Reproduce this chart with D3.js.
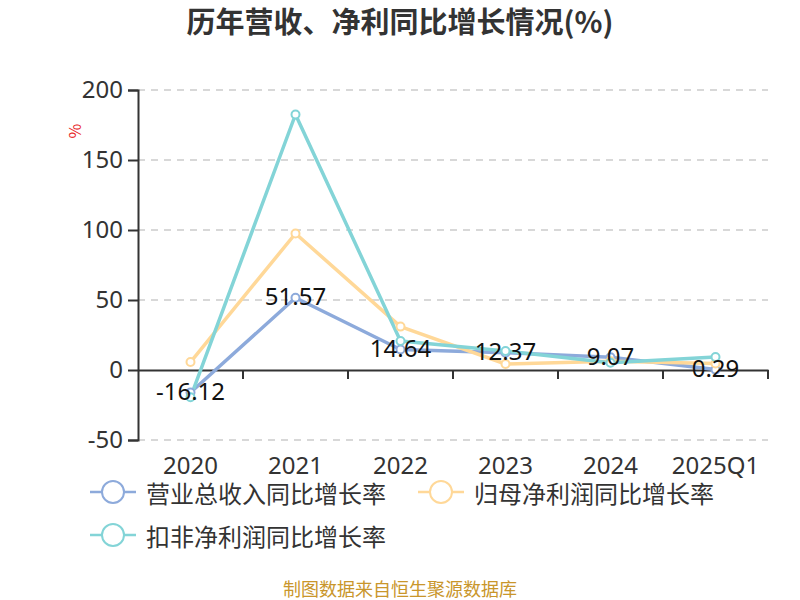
<!DOCTYPE html>
<html><head><meta charset="utf-8">
<script src="https://cdn.jsdelivr.net/npm/d3@7"></script>
<style>body{margin:0;background:#fff}svg{display:block;font-family:"Noto Sans CJK SC","Noto Sans",sans-serif}</style>
</head><body><svg id="c" width="800" height="600"></svg>
<script>
const categories = ["2020","2021","2022","2023","2024","2025Q1"];
const revenueGrowth = [-16.12, 51.57, 14.64, 12.37, 9.07, 0.29];
const netProfitGrowth = [5.7, 97.5, 31.0, 4.3, 6.2, 4.6];
const deductedProfitGrowth = [-19.5, 182.5, 20.7, 13.6, 5.2, 9.3];
const yTicks = [-50, 0, 50, 100, 150, 200];
const seriesNames = ["营业总收入同比增长率","归母净利润同比增长率","扣非净利润同比增长率"];
const colors = ["#8DAADB","#FFD898","#83D4D7"];

const svg = d3.select("#c");
const x = d3.scaleBand().domain(categories).range([138, 768]);
const y = d3.scaleLinear().domain([-50, 200]).range([440, 90]);
const numFont = "'Noto Sans',sans-serif";

// title
svg.append("text").attr("x",400).attr("y",33).attr("text-anchor","middle")
  .attr("font-size",29).attr("font-weight","bold").attr("fill","#333").text("历年营收、净利同比增长情况(%)");

// grid
svg.append("g").selectAll("line").data(yTicks.filter(d=>d!==0)).join("line")
  .attr("x1",138).attr("x2",768).attr("y1",d=>y(d)).attr("y2",d=>y(d))
  .attr("stroke","#ccc").attr("stroke-width",1.5).attr("stroke-dasharray","7,6");

// y axis
const ya = svg.append("g").attr("transform","translate(138,0)")
  .call(d3.axisLeft(y).tickValues(yTicks).tickSize(10).tickPadding(5).tickFormat(d=>String(d)));
ya.select(".domain").attr("stroke","#333").attr("stroke-width",2);
ya.selectAll(".tick line").attr("stroke","#333").attr("stroke-width",2);
ya.selectAll(".tick text").attr("font-size",24).attr("fill","#333").attr("font-family",numFont);

// x axis at 0
const xa = svg.append("g").attr("transform",`translate(0,${y(0)})`)
  .call(d3.axisBottom(x).tickSize(0).tickFormat(""));
xa.select(".domain").attr("stroke","#333").attr("stroke-width",2);
svg.append("g").selectAll("line").data(categories).join("line")
  .attr("x1",d=>x(d)+x.bandwidth()).attr("x2",d=>x(d)+x.bandwidth())
  .attr("y1",y(0)).attr("y2",y(0)+9).attr("stroke","#333").attr("stroke-width",2);
svg.append("g").selectAll("text").data(categories).join("text")
  .attr("x",d=>x(d)+x.bandwidth()/2).attr("y",474).attr("text-anchor","middle")
  .attr("font-size",24).attr("fill","#333").attr("font-family",numFont).text(d=>d);

// unit
svg.append("text").attr("transform","translate(81,131) rotate(-90)").attr("text-anchor","middle")
  .attr("font-size",16).attr("fill","#e8262a").text("%");

const allSeries = [revenueGrowth, netProfitGrowth, deductedProfitGrowth];
const line = d3.line().x((d,i)=>x(categories[i])+x.bandwidth()/2).y(d=>y(d));
allSeries.forEach((s,k)=>{
  svg.append("path").datum(s).attr("d",line).attr("fill","none")
    .attr("stroke",colors[k]).attr("stroke-width",3.5).attr("stroke-linejoin","round");
});
allSeries.forEach((s,k)=>{
  svg.append("g").selectAll("circle").data(s).join("circle")
    .attr("cx",(d,i)=>x(categories[i])+x.bandwidth()/2).attr("cy",d=>y(d)).attr("r",4)
    .attr("fill","#fff").attr("stroke",colors[k]).attr("stroke-width",2);
});
// labels
svg.append("g").selectAll("text").data(revenueGrowth).join("text")
  .attr("x",(d,i)=>x(categories[i])+x.bandwidth()/2).attr("y",d=>y(d)-2)
  .attr("dominant-baseline","central").attr("text-anchor","middle")
  .attr("font-size",24).attr("fill","#111").attr("font-family",numFont).text(d=>d.toFixed(2));

// legend
const legendPos = [[90,492],[418,492],[90,535]];
seriesNames.forEach((n,k)=>{
  const [lx,ly] = legendPos[k];
  const g = svg.append("g");
  g.append("line").attr("x1",lx).attr("x2",lx+46).attr("y1",ly).attr("y2",ly).attr("stroke",colors[k]).attr("stroke-width",2.5);
  g.append("circle").attr("cx",lx+23).attr("cy",ly).attr("r",11).attr("fill","#fff").attr("stroke",colors[k]).attr("stroke-width",2);
  g.append("text").attr("x",lx+56).attr("y",ly).attr("dominant-baseline","central")
    .attr("font-size",24).attr("fill","#333").text(n);
});

// footer
svg.append("text").attr("x",400).attr("y",596).attr("text-anchor","middle")
  .attr("font-size",18).attr("fill","#C9962B").text("制图数据来自恒生聚源数据库");
</script></body></html>
